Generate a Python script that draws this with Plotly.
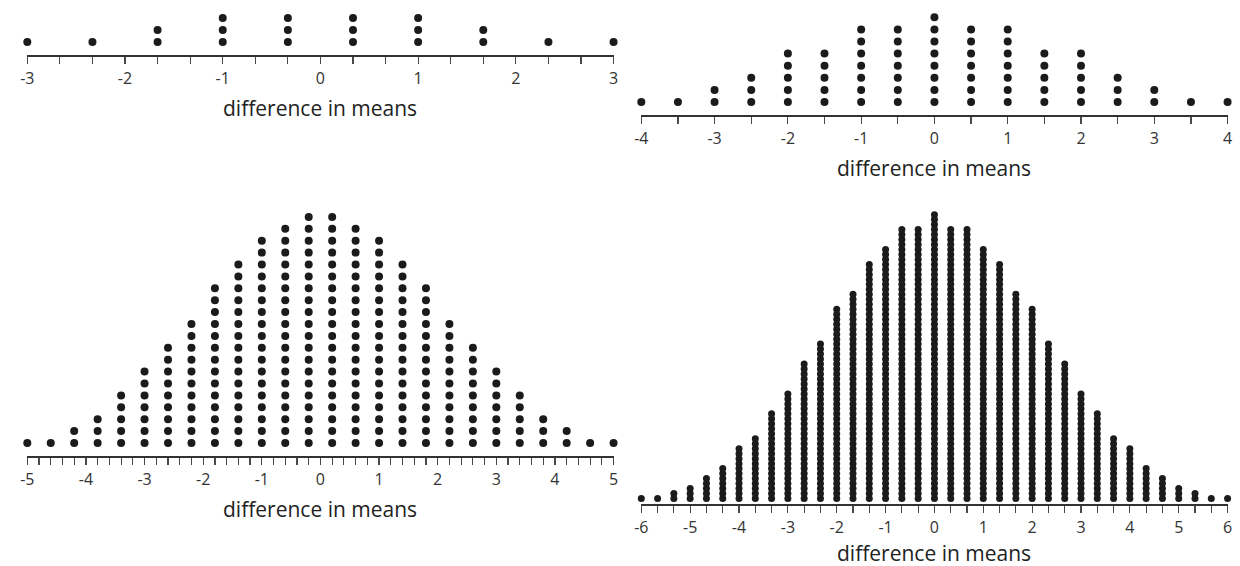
import plotly.graph_objects as go

# ---------------- data ----------------
tl_diffs = [-3, -7/3, -5/3, -1, -1/3, 1/3, 1, 5/3, 7/3, 3]
tl_counts = [1, 1, 2, 3, 3, 3, 3, 2, 1, 1]

tr_diffs = [-4, -3.5, -3, -2.5, -2, -1.5, -1, -0.5, 0, 0.5, 1, 1.5, 2, 2.5, 3, 3.5, 4]
tr_counts = [1, 1, 2, 3, 5, 5, 7, 7, 8, 7, 7, 5, 5, 3, 2, 1, 1]

bl_diffs = [-5, -4.6, -4.2, -3.8, -3.4, -3, -2.6, -2.2, -1.8, -1.4, -1, -0.6, -0.2,
            0.2, 0.6, 1, 1.4, 1.8, 2.2, 2.6, 3, 3.4, 3.8, 4.2, 4.6, 5]
bl_counts = [1, 1, 2, 3, 5, 7, 9, 11, 14, 16, 18, 19, 20,
             20, 19, 18, 16, 14, 11, 9, 7, 5, 3, 2, 1, 1]

br_diffs = [-6, -17/3, -16/3, -5, -14/3, -13/3, -4, -11/3, -10/3, -3, -8/3, -7/3,
            -2, -5/3, -4/3, -1, -2/3, -1/3, 0, 1/3, 2/3, 1, 4/3, 5/3, 2, 7/3, 8/3,
            3, 10/3, 11/3, 4, 13/3, 14/3, 5, 16/3, 17/3, 6]
br_counts = [1, 1, 2, 3, 5, 7, 11, 13, 18, 22, 28, 32, 39, 42, 48, 51, 55, 55, 58,
             55, 55, 51, 48, 42, 39, 32, 28, 22, 18, 13, 11, 7, 5, 3, 2, 1, 1]

tl_ticks = [-3, -2, -1, 0, 1, 2, 3]
tr_ticks = [-4, -3, -2, -1, 0, 1, 2, 3, 4]
bl_ticks = [-5, -4, -3, -2, -1, 0, 1, 2, 3, 4, 5]
br_ticks = [-6, -5, -4, -3, -2, -1, 0, 1, 2, 3, 4, 5, 6]
axis_title = "difference in means"

# ---------------- layout helpers ----------------
W, H = 1240, 566
FONT = "Open Sans"
DOT = "#1b1b1b"
AX = "#333333"
TICK = "#4a4a4a"

fig = go.Figure()

panels = [
    # diffs, counts, ticks, minor step, x0px, x1px, axis_y px, d, s, top px, dot size, title y px, up tick len
    (tl_diffs, tl_counts, tl_ticks, 1/3, 20.5, 612.5, 54.5, 12.5, 12.0, 0, 8, 108, 5),
    (tr_diffs, tr_counts, tr_ticks, 0.5, 640.5, 1232.5, 114.5, 12.5, 12.1, 0, 8, 168, 5),
    (bl_diffs, bl_counts, bl_ticks, 0.2, 20.5, 612.5, 456, 13, 11.9, 190, 8, 509, 5),
    (br_diffs, br_counts, br_ticks, 1/3, 640.5, 1232.5, 504, 5.5, 4.98, 190, 7, 553, 0),
]

layout = dict(width=W, height=H, margin=dict(l=0, r=0, t=0, b=0),
              paper_bgcolor="white", plot_bgcolor="white", showlegend=False,
              font=dict(family=FONT, color="#222"))
annotations = []

for i, (diffs, counts, ticks, mstep, x0, x1, ay, d, s, top, msize, ty, up) in enumerate(panels):
    n = i + 1
    xs, ys = [], []
    for xv, c in zip(diffs, counts):
        for k in range(1, c + 1):
            xs.append(xv)
            ys.append(k)
    xa = "x" if n == 1 else f"x{n}"
    ya = "y" if n == 1 else f"y{n}"
    fig.add_trace(go.Scatter(x=xs, y=ys, mode="markers", xaxis=xa, yaxis=ya,
                             cliponaxis=False, hoverinfo="skip",
                             marker=dict(size=msize, color=DOT, line=dict(width=0))))
    lo = 1 - d / s
    hi = 1 + (ay - d - top) / s
    xr = [diffs[0], diffs[-1]]
    dom_x = [x0 / W, x1 / W]
    dom_y = [1 - ay / H, 1 - top / H]
    xkey = "xaxis" if n == 1 else f"xaxis{n}"
    ykey = "yaxis" if n == 1 else f"yaxis{n}"
    layout[xkey] = dict(domain=dom_x, range=xr, anchor=ya, showgrid=False, zeroline=False,
                        showline=True, linecolor=AX, linewidth=2,
                        tickmode="array", tickvals=ticks, ticktext=[str(t) for t in ticks],
                        ticks="outside", ticklen=7, tickwidth=1.2, tickcolor=TICK,
                        ticklabelstandoff=1,
                        tickfont=dict(family=FONT, size=16, color="#333"),
                        minor=dict(tickmode="linear", tick0=xr[0], dtick=mstep,
                                   ticks="outside", ticklen=7, tickwidth=1.2, tickcolor=TICK),
                        fixedrange=True)
    layout[ykey] = dict(domain=dom_y, range=[lo, hi], anchor=xa, visible=False,
                        showgrid=False, zeroline=False, fixedrange=True)
    if up > 0:
        ok = f"xaxis{n + 4}"
        layout[ok] = dict(domain=dom_x, range=xr, overlaying=xa, anchor=ya, side="bottom",
                          showgrid=False, zeroline=False, showline=False,
                          tickmode="array", tickvals=ticks, showticklabels=False,
                          ticks="inside", ticklen=up, tickwidth=1.2, tickcolor=TICK,
                          minor=dict(tickmode="linear", tick0=xr[0], dtick=mstep,
                                     ticks="inside", ticklen=up, tickwidth=1.2, tickcolor=TICK),
                          fixedrange=True)
    annotations.append(dict(text=axis_title, xref="paper", yref="paper",
                            x=(x0 + x1) / 2 / W, y=1 - ty / H, xanchor="center", yanchor="middle",
                            showarrow=False, font=dict(family=FONT, size=21, color="#222")))

layout["annotations"] = annotations
fig.update_layout(**layout)
fig.write_html("out.html",
               config={"displayModeBar": False, "staticPlot": True},
               post_script="document.body.style.margin='0';document.body.style.padding='0';"
                           "document.body.style.overflow='hidden';")
